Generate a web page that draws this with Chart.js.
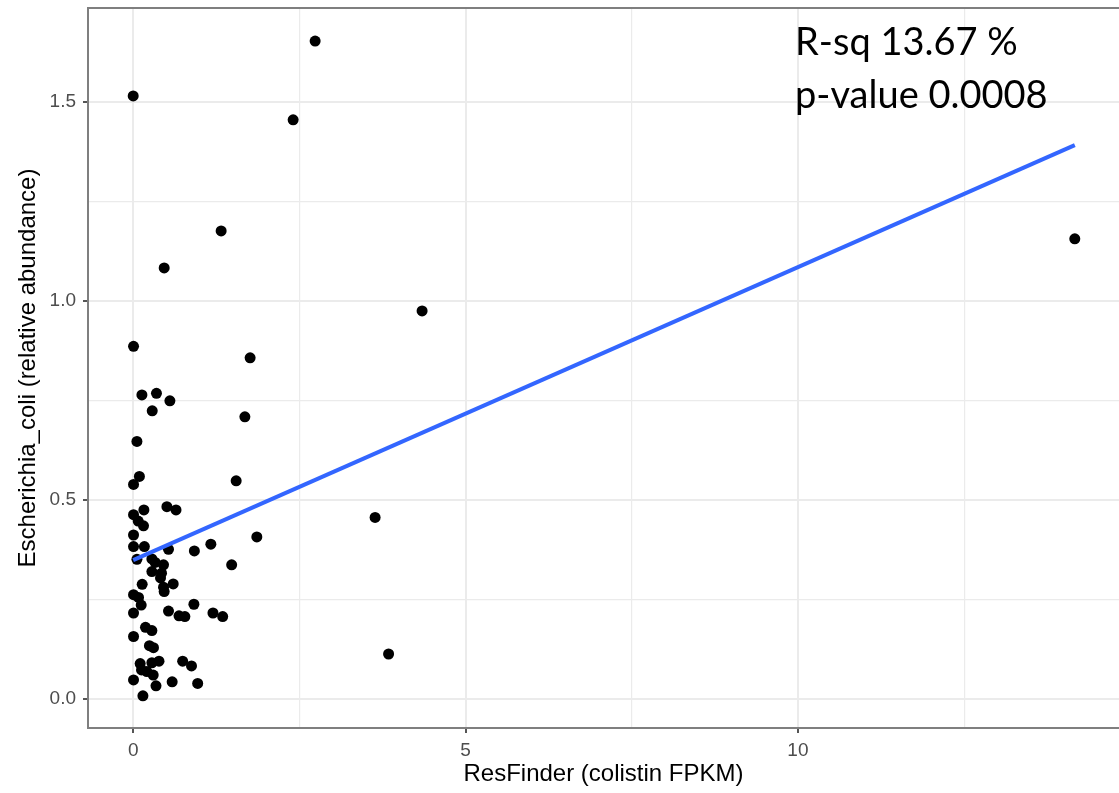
<!DOCTYPE html>
<html>
<head>
<meta charset="utf-8">
<title>Escherichia coli vs colistin resistance</title>
<script src="https://cdn.jsdelivr.net/npm/chart.js@4.4.1/dist/chart.umd.min.js"></script>
<style>
  html, body { margin: 0; padding: 0; background: #ffffff; }
  #wrap { position: relative; width: 1119px; height: 793px; }
</style>
</head>
<body>
<div id="wrap"><canvas id="chart"></canvas></div>
<script>
// Per-sample colistin resistance (ResFinder FPKM) and E. coli relative abundance
const colistinFpkm = [
  0.000, 2.737, 2.406, 1.323, 0.466, 4.346, 14.165, 0.005, 1.759, 0.131,
  0.350, 0.552, 0.286, 1.680, 0.056, 1.549, 0.093, 0.005, 0.507, 0.644,
  0.161, 0.005, 0.075, 0.155, 0.005, 1.860, 1.168, 0.920, 0.005, 0.168,
  0.531, 0.056, 0.281, 0.331, 0.456, 1.481, 0.281, 0.426, 0.411, 0.135,
  0.602, 0.456, 0.466, 0.005, 0.080, 0.120, 0.913, 0.005, 0.531, 0.689,
  0.777, 1.200, 1.346, 0.185, 0.281, 0.005, 0.244, 0.305, 0.105, 0.281,
  0.388, 0.744, 0.877, 0.125, 0.206, 0.301, 0.005, 0.343, 0.586, 0.970,
  0.146, 3.639, 3.842
];
const ecoliAbundance = [
  1.515, 1.653, 1.455, 1.176, 1.083, 0.975, 1.156, 0.886, 0.857, 0.764,
  0.768, 0.749, 0.724, 0.709, 0.647, 0.548, 0.559, 0.539, 0.483, 0.475,
  0.475, 0.463, 0.447, 0.435, 0.412, 0.407, 0.389, 0.372, 0.383, 0.383,
  0.376, 0.351, 0.352, 0.343, 0.337, 0.337, 0.320, 0.316, 0.304, 0.288,
  0.289, 0.281, 0.270, 0.262, 0.255, 0.236, 0.238, 0.216, 0.221, 0.209,
  0.207, 0.216, 0.207, 0.180, 0.172, 0.157, 0.134, 0.129, 0.089, 0.091,
  0.095, 0.095, 0.083, 0.073, 0.069, 0.060, 0.048, 0.033, 0.043, 0.039,
  0.008, 0.456, 0.113
];

// Linear fit (lm) shown as the blue line
const fitIntercept = 0.349;
const fitSlope = 0.0736;
const statLines = ['R-sq 13.67 %', 'p-value 0.0008'];

// Axis breaks: labelled major breaks plus minor grid breaks
const xMajor = [0, 5, 10];
const xGrid = [0, 2.5, 5, 7.5, 10, 12.5];
const yMajor = [0, 0.5, 1.0, 1.5];
const yGrid = [0, 0.25, 0.5, 0.75, 1.0, 1.25, 1.5];
const xTitle = 'ResFinder (colistin FPKM)';
const yTitle = 'Escherichia_coli (relative abundance)';

const points = colistinFpkm.map((x, i) => ({ x: x, y: ecoliAbundance[i] }));
const xFitEnd = Math.max(...colistinFpkm);
const xFitStart = Math.min(...colistinFpkm);
const fitLine = [
  { x: xFitStart, y: fitIntercept + fitSlope * xFitStart },
  { x: xFitEnd, y: fitIntercept + fitSlope * xFitEnd }
];

const GRID = '#ebebeb';
const PANEL = '#7f7f7f';
const isMajor = (list, v) => list.some(m => Math.abs(m - v) < 1e-9);

// Panel outline on top edge (the other edges come from the axis borders)
const panelTop = {
  id: 'panelTop',
  afterDraw(chart) {
    const { ctx, chartArea: a } = chart;
    ctx.save();
    ctx.strokeStyle = PANEL;
    ctx.lineWidth = 2;
    ctx.beginPath();
    ctx.moveTo(a.left - 1, a.top);
    ctx.lineTo(a.right, a.top);
    ctx.stroke();
    ctx.restore();
  }
};

// Fit statistics text in the upper right
const statText = {
  id: 'statText',
  afterDraw(chart) {
    const { ctx } = chart;
    ctx.save();
    ctx.fillStyle = '#000000';
    ctx.font = '38px Lato';
    ctx.textAlign = 'left';
    ctx.textBaseline = 'alphabetic';
    ctx.fillText(statLines[0], 795, 55);
    ctx.fillText(statLines[1], 795, 108);
    ctx.restore();
  }
};

new Chart(document.getElementById('chart'), {
  type: 'scatter',
  data: {
    datasets: [
      {
        type: 'line',
        data: fitLine,
        borderColor: '#3366FF',
        borderWidth: 4,
        pointRadius: 0,
        fill: false,
        order: 0
      },
      {
        data: points,
        backgroundColor: '#000000',
        borderColor: '#000000',
        borderWidth: 0,
        pointRadius: 5.5,
        order: 1
      }
    ]
  },
  options: {
    responsive: true,
    maintainAspectRatio: false,
    animation: false,
    events: [],
    layout: { autoPadding: false, padding: { top: 8, right: 0, left: 0, bottom: 0 } },
    plugins: { legend: { display: false }, tooltip: { enabled: false } },
    scales: {
      x: {
        type: 'linear',
        min: -0.68,
        max: 14.83,
        afterBuildTicks: s => { s.ticks = xGrid.map(v => ({ value: v })); },
        afterFit: s => {
          s.height = 65;
          s.paddingLeft = 0;
          s.paddingRight = 0;
        },
        ticks: {
          autoSkip: false,
          maxRotation: 0,
          padding: 6,
          color: '#4d4d4d',
          font: { family: 'Liberation Sans', size: 19 },
          callback: v => isMajor(xMajor, v) ? String(v) : ''
        },
        grid: {
          color: GRID,
          lineWidth: c => isMajor(xMajor, c.tick.value) ? 2 : 1.2,
          tickLength: 5,
          tickColor: c => isMajor(xMajor, c.tick.value) ? '#555555' : 'rgba(0,0,0,0)',
          tickWidth: 2
        },
        border: { display: true, color: PANEL, width: 2 },
        title: {
          display: true,
          text: xTitle,
          color: '#000000',
          font: { family: 'Liberation Sans', size: 24 },
          padding: { top: 0, bottom: 4 }
        }
      },
      y: {
        type: 'linear',
        min: -0.0729,
        max: 1.736,
        afterBuildTicks: s => { s.ticks = yGrid.map(v => ({ value: v })); },
        afterFit: s => {
          s.width = 88;
          s.paddingTop = 0;
          s.paddingBottom = 0;
        },
        ticks: {
          autoSkip: false,
          padding: 7,
          color: '#4d4d4d',
          font: { family: 'Liberation Sans', size: 19 },
          callback: v => isMajor(yMajor, v) ? Number(v).toFixed(1) : ''
        },
        grid: {
          color: GRID,
          lineWidth: c => isMajor(yMajor, c.tick.value) ? 2 : 1.2,
          tickLength: 5,
          tickColor: c => isMajor(yMajor, c.tick.value) ? '#555555' : 'rgba(0,0,0,0)',
          tickWidth: 2
        },
        border: { display: true, color: PANEL, width: 2 },
        title: {
          display: true,
          text: yTitle,
          color: '#000000',
          font: { family: 'Liberation Sans', size: 24 },
          padding: { top: 14, bottom: 0 }
        }
      }
    }
  },
  plugins: [panelTop, statText]
});
</script>
</body>
</html>
